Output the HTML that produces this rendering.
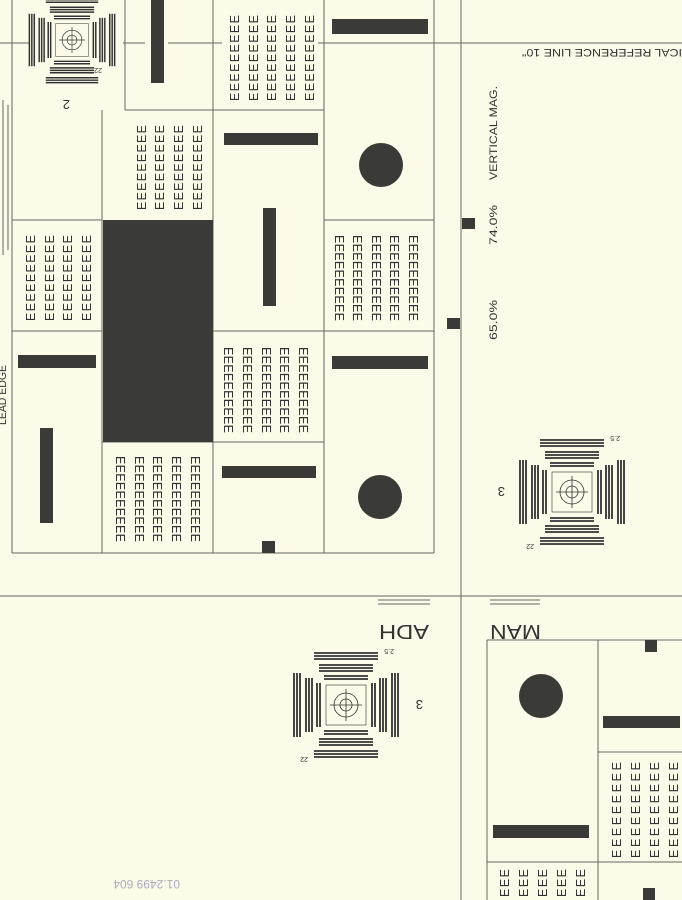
<!DOCTYPE html>
<html><head><meta charset="utf-8"><style>
html,body{margin:0;padding:0;background:#fcfae8;}
svg{display:block}
text{font-family:"Liberation Sans",sans-serif;fill:#333}
</style></head><body>
<svg width="682" height="900" viewBox="0 0 682 900" xmlns="http://www.w3.org/2000/svg">
<rect width="682" height="900" fill="#fcfae8"/>
<defs>
<g id="tgt" stroke="#333" fill="none">
  <rect x="-20" y="-20" width="40" height="40" stroke-width="0.6"/>
  <circle r="12" stroke-width="0.8"/><circle r="6" stroke-width="0.8"/>
  <line x1="-16" y1="0" x2="16" y2="0" stroke-width="0.8"/><line x1="0" y1="-16" x2="0" y2="16" stroke-width="0.8"/>
  <g stroke-width="1.8">
  <line x1="-32" y1="-52" x2="32" y2="-52"/><line x1="-32" y1="-49" x2="32" y2="-49"/><line x1="-32" y1="-46" x2="32" y2="-46"/>
  <line x1="-27" y1="-40" x2="27" y2="-40"/><line x1="-27" y1="-37" x2="27" y2="-37"/><line x1="-27" y1="-34" x2="27" y2="-34"/>
  <line x1="-22" y1="-29" x2="22" y2="-29"/><line x1="-22" y1="-26" x2="22" y2="-26"/>
  <line x1="-32" y1="52" x2="32" y2="52"/><line x1="-32" y1="49" x2="32" y2="49"/><line x1="-32" y1="46" x2="32" y2="46"/>
  <line x1="-27" y1="40" x2="27" y2="40"/><line x1="-27" y1="37" x2="27" y2="37"/><line x1="-27" y1="34" x2="27" y2="34"/>
  <line x1="-22" y1="29" x2="22" y2="29"/><line x1="-22" y1="26" x2="22" y2="26"/>
  <line x1="-52" y1="-32" x2="-52" y2="32"/><line x1="-49" y1="-32" x2="-49" y2="32"/><line x1="-46" y1="-32" x2="-46" y2="32"/>
  <line x1="-40" y1="-27" x2="-40" y2="27"/><line x1="-37" y1="-27" x2="-37" y2="27"/><line x1="-34" y1="-27" x2="-34" y2="27"/>
  <line x1="-29" y1="-22" x2="-29" y2="22"/><line x1="-26" y1="-22" x2="-26" y2="22"/>
  <line x1="52" y1="-32" x2="52" y2="32"/><line x1="49" y1="-32" x2="49" y2="32"/><line x1="46" y1="-32" x2="46" y2="32"/>
  <line x1="40" y1="-27" x2="40" y2="27"/><line x1="37" y1="-27" x2="37" y2="27"/><line x1="34" y1="-27" x2="34" y2="27"/>
  <line x1="29" y1="-22" x2="29" y2="22"/><line x1="26" y1="-22" x2="26" y2="22"/>
  </g>
</g>
</defs>

<g stroke="#666" stroke-width="1" fill="none">
  <line x1="12" y1="0" x2="12" y2="553"/>
  <line x1="434" y1="0" x2="434" y2="553"/>
  <line x1="12" y1="553" x2="434" y2="553"/>
  <line x1="102" y1="110" x2="102" y2="553"/>
  <line x1="125" y1="0" x2="125" y2="110"/>
  <line x1="213" y1="0" x2="213" y2="553"/>
  <line x1="324" y1="0" x2="324" y2="553"/>
  <line x1="125" y1="110" x2="324" y2="110"/>
  <line x1="12" y1="220" x2="102" y2="220"/>
  <line x1="324" y1="220" x2="434" y2="220"/>
  <line x1="12" y1="331" x2="102" y2="331"/>
  <line x1="213" y1="331" x2="434" y2="331"/>
  <line x1="102" y1="442" x2="324" y2="442"/>
  <line x1="0" y1="43" x2="30" y2="43"/>
  <line x1="123" y1="43" x2="145" y2="43"/><line x1="168" y1="43" x2="222" y2="43"/>
  <line x1="318" y1="43" x2="682" y2="43"/>
  <line x1="461" y1="0" x2="461" y2="900"/>
  <line x1="0" y1="596" x2="682" y2="596"/>
  <line x1="378" y1="600" x2="430" y2="600"/><line x1="490" y1="600" x2="540" y2="600"/>
  <line x1="378" y1="604" x2="430" y2="604"/><line x1="490" y1="604" x2="540" y2="604"/>
  <line x1="487" y1="640" x2="682" y2="640"/>
  <line x1="487" y1="640" x2="487" y2="900"/>
  <line x1="598" y1="640" x2="598" y2="900"/>
  <line x1="598" y1="752" x2="682" y2="752"/>
  <line x1="487" y1="862" x2="682" y2="862"/>
  <line x1="3" y1="100" x2="3" y2="255"/><line x1="8" y1="105" x2="8" y2="250"/>
</g>

<g fill="#3a3a36">
  <rect x="103" y="220" width="110" height="222"/>
  <rect x="151" y="0" width="13" height="83"/>
  <rect x="332" y="19" width="96" height="15"/>
  <circle cx="381" cy="165" r="22"/>
  <rect x="224" y="133" width="94" height="12"/>
  <rect x="263" y="208" width="13" height="98"/>
  <rect x="18" y="355" width="78" height="13"/>
  <rect x="40" y="428" width="13" height="95"/>
  <rect x="332" y="356" width="96" height="13"/>
  <rect x="222" y="466" width="94" height="12"/>
  <rect x="262" y="541" width="13" height="12"/>
  <circle cx="380" cy="497" r="22"/>
  <rect x="462" y="218" width="13" height="11"/>
  <rect x="447" y="318" width="13" height="11"/>
  <circle cx="541" cy="696" r="22"/>
  <rect x="493" y="825" width="96" height="13"/>
  <rect x="645" y="640" width="12" height="12"/>
  <rect x="603" y="716" width="77" height="12"/>
  <rect x="643" y="888" width="12" height="12"/>
</g>

<g font-size="12.5">
  <text transform="translate(146,210) rotate(-90)" textLength="85" lengthAdjust="spacing">EEEEEEEEE</text>
  <text transform="translate(164,210) rotate(-90)" textLength="85" lengthAdjust="spacing">EEEEEEEEE</text>
  <text transform="translate(183,210) rotate(-90)" textLength="85" lengthAdjust="spacing">EEEEEEEEE</text>
  <text transform="translate(202,210) rotate(-90)" textLength="85" lengthAdjust="spacing">EEEEEEEEE</text>
  <text transform="translate(239,101) rotate(-90)" textLength="86" lengthAdjust="spacing">EEEEEEEEE</text>
  <text transform="translate(258,101) rotate(-90)" textLength="86" lengthAdjust="spacing">EEEEEEEEE</text>
  <text transform="translate(276,101) rotate(-90)" textLength="86" lengthAdjust="spacing">EEEEEEEEE</text>
  <text transform="translate(295,101) rotate(-90)" textLength="86" lengthAdjust="spacing">EEEEEEEEE</text>
  <text transform="translate(314,101) rotate(-90)" textLength="86" lengthAdjust="spacing">EEEEEEEEE</text>
  <text transform="translate(35,321) rotate(-90)" textLength="86" lengthAdjust="spacing">EEEEEEEEE</text>
  <text transform="translate(54,321) rotate(-90)" textLength="86" lengthAdjust="spacing">EEEEEEEEE</text>
  <text transform="translate(72,321) rotate(-90)" textLength="86" lengthAdjust="spacing">EEEEEEEEE</text>
  <text transform="translate(91,321) rotate(-90)" textLength="86" lengthAdjust="spacing">EEEEEEEEE</text>
  <text transform="translate(621,858) rotate(-90)" textLength="96" lengthAdjust="spacing">EEEEEEEEE</text>
  <text transform="translate(640,858) rotate(-90)" textLength="96" lengthAdjust="spacing">EEEEEEEEE</text>
  <text transform="translate(659,858) rotate(-90)" textLength="96" lengthAdjust="spacing">EEEEEEEEE</text>
  <text transform="translate(678,858) rotate(-90)" textLength="96" lengthAdjust="spacing">EEEEEEEEE</text>
  <text transform="translate(509,897) rotate(-90)" textLength="28" lengthAdjust="spacing">EEE</text>
  <text transform="translate(528,897) rotate(-90)" textLength="28" lengthAdjust="spacing">EEE</text>
  <text transform="translate(547,897) rotate(-90)" textLength="28" lengthAdjust="spacing">EEE</text>
  <text transform="translate(566,897) rotate(-90)" textLength="28" lengthAdjust="spacing">EEE</text>
  <text transform="translate(585,897) rotate(-90)" textLength="28" lengthAdjust="spacing">EEE</text>
</g>
<g font-size="12.5">
  <text transform="translate(335,235) rotate(90)" textLength="86" lengthAdjust="spacing">EEEEEEEEEE</text>
  <text transform="translate(353,235) rotate(90)" textLength="86" lengthAdjust="spacing">EEEEEEEEEE</text>
  <text transform="translate(372,235) rotate(90)" textLength="86" lengthAdjust="spacing">EEEEEEEEEE</text>
  <text transform="translate(390,235) rotate(90)" textLength="86" lengthAdjust="spacing">EEEEEEEEEE</text>
  <text transform="translate(409,235) rotate(90)" textLength="86" lengthAdjust="spacing">EEEEEEEEEE</text>
  <text transform="translate(224,347) rotate(90)" textLength="86" lengthAdjust="spacing">EEEEEEEEEE</text>
  <text transform="translate(243,347) rotate(90)" textLength="86" lengthAdjust="spacing">EEEEEEEEEE</text>
  <text transform="translate(262,347) rotate(90)" textLength="86" lengthAdjust="spacing">EEEEEEEEEE</text>
  <text transform="translate(280,347) rotate(90)" textLength="86" lengthAdjust="spacing">EEEEEEEEEE</text>
  <text transform="translate(299,347) rotate(90)" textLength="86" lengthAdjust="spacing">EEEEEEEEEE</text>
  <text transform="translate(116,456) rotate(90)" textLength="86" lengthAdjust="spacing">EEEEEEEEEE</text>
  <text transform="translate(135,456) rotate(90)" textLength="86" lengthAdjust="spacing">EEEEEEEEEE</text>
  <text transform="translate(153,456) rotate(90)" textLength="86" lengthAdjust="spacing">EEEEEEEEEE</text>
  <text transform="translate(172,456) rotate(90)" textLength="86" lengthAdjust="spacing">EEEEEEEEEE</text>
  <text transform="translate(191,456) rotate(90)" textLength="86" lengthAdjust="spacing">EEEEEEEEEE</text>
</g>

<use href="#tgt" transform="translate(72,40) scale(0.82) rotate(180)"/>
<use href="#tgt" transform="translate(572,492) rotate(180)"/>
<use href="#tgt" transform="translate(346,705) rotate(180)"/>
<g font-size="7">
  <text transform="translate(72,40) rotate(180)" x="-30" y="-28">22</text>
  <text transform="translate(572,492) rotate(180)" x="-48" y="56">2.5</text>
  <text transform="translate(572,492) rotate(180)" x="38" y="-52">22</text>
  <text transform="translate(346,705) rotate(180)" x="-48" y="56">2.5</text>
  <text transform="translate(346,705) rotate(180)" x="38" y="-52">22</text>
</g>

<g font-size="13">
  <text transform="translate(70,100) rotate(180)">2</text>
  <text transform="translate(505,487) rotate(180)">3</text>
  <text transform="translate(423,700) rotate(180)">3</text>
</g>
<text transform="translate(429,625) rotate(180)" font-size="20" textLength="50" lengthAdjust="spacingAndGlyphs">ADH</text>
<text transform="translate(541,625) rotate(180)" font-size="20" textLength="51" lengthAdjust="spacingAndGlyphs">MAN</text>
<text transform="translate(682,49) rotate(180)" font-size="11" textLength="160" lengthAdjust="spacingAndGlyphs">ICAL REFERENCE LINE 10"</text>
<g font-size="11">
  <text transform="translate(497,180) rotate(-90)" textLength="94" lengthAdjust="spacingAndGlyphs">VERTICAL MAG.</text>
  <text transform="translate(497,245) rotate(-90)" textLength="40" lengthAdjust="spacingAndGlyphs">74.0%</text>
  <text transform="translate(497,340) rotate(-90)" textLength="40" lengthAdjust="spacingAndGlyphs">65.0%</text>
  <text transform="translate(6,425) rotate(-90)" textLength="60" lengthAdjust="spacingAndGlyphs">LEAD EDGE</text>
</g>
<text transform="translate(180,880) rotate(180)" font-size="12" style="fill:#b0a8c0">01.2499 604</text>
</svg>
</body></html>
